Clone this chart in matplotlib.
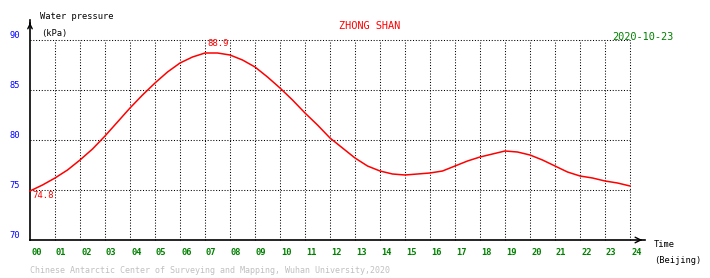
import matplotlib
matplotlib.use("Agg")
import matplotlib.pyplot as plt
import numpy as np

hours = [0, 0.5, 1, 1.5, 2, 2.5, 3, 3.5, 4, 4.5, 5, 5.5, 6, 6.5, 7, 7.5, 8,
         8.5, 9, 9.5, 10, 10.5, 11, 11.5, 12, 12.5, 13, 13.5, 14, 14.5, 15, 15.5, 16,
         16.5, 17, 17.5, 18, 18.5, 19, 19.5, 20, 20.5, 21, 21.5, 22, 22.5, 23, 23.5, 24]
pressure = [74.9, 75.5, 76.2, 77.0, 78.0, 79.1, 80.4, 81.8, 83.2, 84.5, 85.7, 86.8, 87.7, 88.3, 88.7, 88.7, 88.5,
            88.0, 87.3, 86.3, 85.2, 84.0, 82.7, 81.5, 80.2, 79.2, 78.2, 77.4, 76.9, 76.6, 76.5, 76.6, 76.7,
            76.9, 77.4, 77.9, 78.3, 78.6, 78.9, 78.8, 78.5, 78.0, 77.4, 76.8, 76.4, 76.2, 75.9, 75.7, 75.4]
y_ticks = [70, 75, 80, 85, 90]
x_tick_labels = ["%02d" % h for h in range(25)]
max_label = "88.9"
min_label = "74.8"
title = "ZHONG SHAN"
date = "2020-10-23"

W, H = 710, 278
fig = plt.figure(figsize=(W / 100, H / 100), dpi=100)
fig.patch.set_facecolor("white")
ax = fig.add_axes([30 / W, (H - 240) / H, 600 / W, 200 / H])
ax.set_xlim(0, 24)
ax.set_ylim(70, 90)
ax.axis("off")

mono = "DejaVu Sans Mono"

def px(x, y):
    return ((x - 30) / 25.0, 70 + (240 - y) / 10.0)

# grid
for yv in y_ticks[1:]:
    ax.plot([0, 24], [yv, yv], color="black", lw=0.75, linestyle=(0, (1, 1.7)), clip_on=False)
for h in range(1, 25):
    ax.plot([h, h], [70, 90], color="black", lw=0.75, linestyle=(0, (1, 1.7)), clip_on=False)

# axes with arrows
x0, ytop = px(30, 20)
ax.plot([0, 0], [70, ytop], color="black", lw=1.2, clip_on=False)
ax.annotate("", xy=(0, ytop), xytext=(0, ytop - 0.6),
            arrowprops=dict(arrowstyle="->", color="black", lw=1.0, mutation_scale=8),
            annotation_clip=False)
xr, _ = px(645, 240)
ax.plot([0, xr], [70, 70], color="black", lw=1.2, clip_on=False)
ax.annotate("", xy=(xr, 70), xytext=(xr - 0.3, 70),
            arrowprops=dict(arrowstyle="->", color="black", lw=1.0, mutation_scale=10),
            annotation_clip=False)

# data line
ax.plot(hours, pressure, color="red", lw=1.1, clip_on=False)

# annotations
ax.text(*px(207, 46), max_label, color="red", fontsize=6.5, family=mono, ha="left", va="baseline")
ax.text(*px(32, 198), min_label, color="red", fontsize=6.5, family=mono, ha="left", va="baseline")

# y tick labels
for yv in y_ticks:
    ax.text(-10 / 25.0, yv + 0.2, str(yv), color="blue", fontsize=6.3, family=mono,
            ha="right", va="baseline", clip_on=False)
# x tick labels
for h, lab in enumerate(x_tick_labels):
    ax.text(h + 1 / 25.0, px(0, 255)[1], lab, color="green", fontsize=6.3, family=mono,
            fontweight="bold", ha="left", va="baseline", clip_on=False)

ax.text(*px(40, 19), "Water pressure", color="black", fontsize=6.3, family=mono, ha="left", va="baseline")
ax.text(*px(41, 36), "(kPa)", color="black", fontsize=6.3, family=mono, ha="left", va="baseline")
ax.text(*px(654, 247), "Time", color="black", fontsize=6.3, family=mono, ha="left", va="baseline")
ax.text(*px(654, 263), "(Beijing)", color="black", fontsize=6.3, family=mono, ha="left", va="baseline")
ax.text(*px(370, 29), title, color="red", fontsize=7.4, family=mono, ha="center", va="baseline")
ax.text(*px(612, 40), date, color="green", fontsize=7.4, family=mono, ha="left", va="baseline")
ax.text(*px(30, 273), "Chinese Antarctic Center of Surveying and Mapping, Wuhan University,2020",
        color="#c0c0c0", fontsize=6, family=mono, ha="left", va="baseline")

fig.savefig("out.png", dpi=100, facecolor="white")
